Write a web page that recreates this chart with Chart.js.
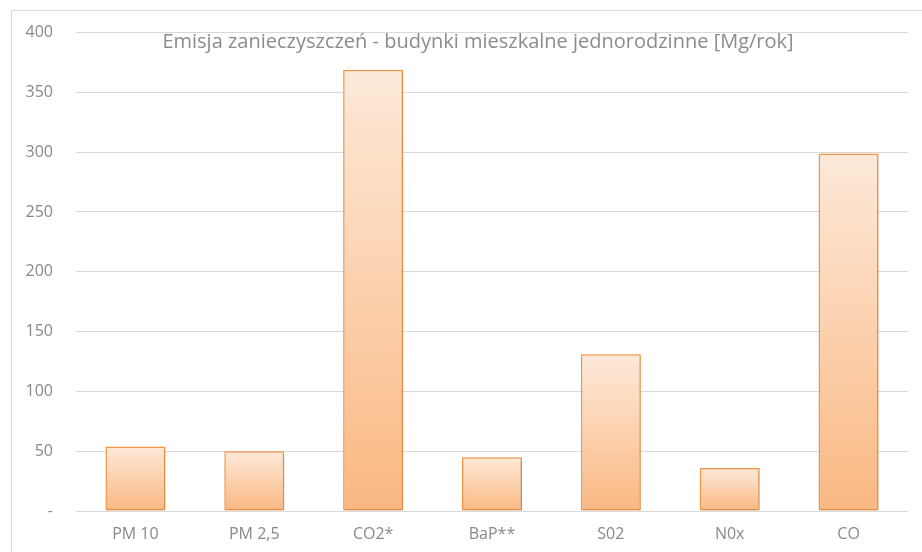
<!DOCTYPE html>
<html>
<head>
<meta charset="utf-8">
<script src="https://cdn.jsdelivr.net/npm/chart.js@4"></script>
<style>
    html, body { margin: 0; padding: 0; background: #fff; }
    #wrap { position: relative; width: 922px; height: 552px; overflow: hidden; }
    #frame { position: absolute; left: 11px; top: 10px; width: 1000px; height: 600px;
             border-top: 1px solid #d9d9d9; border-left: 1px solid #d9d9d9; }
    canvas { position: absolute; left: 0; top: 0; }
</style>
</head>
<body>
<div id="wrap">
    <div id="frame"></div>
    <canvas id="emissionChart" width="922" height="552"></canvas>
</div>
<script>
// Chart data
const categories = ['PM 10', 'PM 2,5', 'CO2*', 'BaP**', 'S02', 'N0x', 'CO'];
const emissions = [54, 50, 369, 45, 131, 36, 299];
const yTicks = [0, 50, 100, 150, 200, 250, 300, 350, 400];
const chartTitle = 'Emisja zanieczyszczeń - budynki mieszkalne jednorodzinne [Mg/rok]';

const textColor = '#898989';
const fontFamily = '"Open Sans", sans-serif';

// Per-bar vertical gradient, light at top, darker orange at the base
function barGradient(context) {
    const chart = context.chart;
    const yScale = chart.scales.y;
    if (!yScale || context.raw === undefined) return '#fbc08f';
    const top = yScale.getPixelForValue(context.raw);
    const bottom = yScale.getPixelForValue(0);
    if (!isFinite(top) || !isFinite(bottom) || top === bottom) return '#fbc08f';
    const g = chart.ctx.createLinearGradient(0, top, 0, bottom);
    g.addColorStop(0, '#fde9d9');
    g.addColorStop(1, '#fab882');
    return g;
}

// Title sits inside the plot area, like the original
const insideTitle = {
    id: 'insideTitle',
    afterDraw(chart) {
        const ctx = chart.ctx;
        ctx.save();
        ctx.font = '20px ' + fontFamily;
        ctx.fillStyle = '#8c8c8c';
        ctx.textAlign = 'center';
        ctx.textBaseline = 'middle';
        ctx.fillText(chartTitle, 478, 42);
        ctx.restore();
    }
};

const barShadow = {
    id: 'barShadow',
    beforeDatasetsDraw(chart) {
        const ctx = chart.ctx;
        ctx.save();
        ctx.shadowColor = 'rgba(0,0,0,0.18)';
        ctx.shadowBlur = 3;
        ctx.shadowOffsetX = 1;
        ctx.shadowOffsetY = 1;
    },
    afterDatasetsDraw(chart) {
        chart.ctx.restore();
    }
};

new Chart(document.getElementById('emissionChart').getContext('2d'), {
    type: 'bar',
    data: {
        labels: categories,
        datasets: [{
            data: emissions,
            backgroundColor: barGradient,
            borderColor: '#f79646',
            borderWidth: 1.5,
            borderSkipped: false,
            categoryPercentage: 1,
            barPercentage: 0.505
        }]
    },
    options: {
        responsive: false,
        animation: false,
        layout: { padding: { left: 0, right: 14, top: 32, bottom: 0 } },
        plugins: {
            legend: { display: false },
            title: { display: false },
            tooltip: { enabled: false }
        },
        scales: {
            x: {
                grid: { display: false },
                border: { display: false },
                ticks: {
                    color: textColor,
                    font: { family: fontFamily, size: 16 },
                    padding: 6,
                    maxRotation: 0
                },
                afterFit(scale) { scale.height = 41; }
            },
            y: {
                min: 0,
                max: 400,
                afterBuildTicks(scale) {
                    scale.ticks = yTicks.map(v => ({ value: v }));
                },
                grid: { color: '#d9d9d9', lineWidth: 1, drawTicks: false },
                border: { display: false },
                ticks: {
                    color: textColor,
                    font: { family: fontFamily, size: 16 },
                    padding: 23,
                    callback: v => v === 0 ? '-' : v
                },
                afterFit(scale) { scale.width = 76; }
            }
        }
    },
    plugins: [barShadow, insideTitle]
});
</script>
</body>
</html>
